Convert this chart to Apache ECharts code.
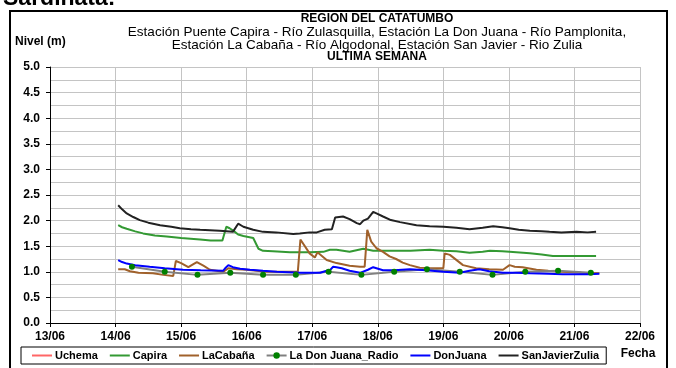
<!DOCTYPE html>
<html>
<head>
<meta charset="utf-8">
<script src="https://cdn.jsdelivr.net/npm/echarts@6/dist/echarts.min.js"></script>
<style>
  html, body { margin: 0; padding: 0; background: #fff; }
  #chart { width: 676px; height: 368px; }
</style>
</head>
<body>
<div id="chart"></div>
<script>
// Fecha expressed as day of June with fractional hours
const seriesNames = ['Uchema', 'Capira', 'LaCabaña', 'La Don Juana_Radio', 'DonJuana', 'SanJavierZulia'];
const xTicks = [13, 14, 15, 16, 17, 18, 19, 20, 21, 22];

const uchemaT = [];
const uchemaV = [];

const capiraT = [14.04, 14.10, 14.17, 14.30, 14.42, 14.60, 14.78, 15.00, 15.29, 15.45, 15.63, 15.69, 15.74, 15.80, 15.87, 15.95, 16.10, 16.18, 16.25, 16.40, 16.66, 16.96, 17.17, 17.27, 17.37, 17.57, 17.78, 17.93, 18.28, 18.50, 18.79, 19.00, 19.20, 19.40, 19.60, 19.71, 19.90, 20.01, 20.32, 20.50, 20.67, 21.00, 21.33];
const capiraV = [1.91, 1.87, 1.84, 1.79, 1.75, 1.71, 1.69, 1.66, 1.63, 1.61, 1.61, 1.88, 1.85, 1.80, 1.73, 1.70, 1.66, 1.45, 1.41, 1.40, 1.38, 1.38, 1.39, 1.43, 1.43, 1.39, 1.45, 1.41, 1.41, 1.41, 1.43, 1.41, 1.40, 1.37, 1.39, 1.41, 1.40, 1.39, 1.36, 1.34, 1.31, 1.31, 1.31];

const cabanaT = [14.04, 14.14, 14.22, 14.35, 14.57, 14.73, 14.88, 14.92, 15.00, 15.11, 15.24, 15.34, 15.44, 15.64, 15.72, 15.85, 16.00, 16.30, 16.78, 16.82, 16.96, 17.04, 17.08, 17.22, 17.37, 17.57, 17.73, 17.80, 17.84, 17.90, 17.98, 18.08, 18.18, 18.28, 18.38, 18.49, 18.64, 18.79, 19.00, 19.02, 19.10, 19.30, 19.50, 19.70, 19.91, 20.01, 20.09, 20.21, 20.42, 20.60, 20.82, 21.10, 21.38];
const cabanaV = [1.05, 1.05, 1.01, 0.98, 0.97, 0.94, 0.92, 1.21, 1.17, 1.09, 1.19, 1.12, 1.04, 1.00, 1.07, 1.05, 1.04, 1.00, 1.00, 1.63, 1.36, 1.28, 1.38, 1.23, 1.17, 1.12, 1.10, 1.10, 1.82, 1.59, 1.46, 1.39, 1.30, 1.25, 1.18, 1.13, 1.08, 1.07, 1.07, 1.36, 1.33, 1.13, 1.07, 1.05, 1.04, 1.13, 1.10, 1.09, 1.04, 1.02, 1.00, 0.98, 0.97];

const radioT = [14.25, 14.75, 15.25, 15.75, 16.25, 16.75, 17.25, 17.75, 18.25, 18.75, 19.25, 19.75, 20.25, 20.75, 21.25];
const radioV = [1.10, 1.00, 0.94, 0.98, 0.94, 0.94, 1.00, 0.94, 1.00, 1.05, 1.00, 0.94, 1.00, 1.02, 0.98];

const donJuanaT = [14.04, 14.10, 14.17, 14.30, 14.52, 14.75, 15.03, 15.30, 15.64, 15.68, 15.72, 15.79, 15.90, 16.05, 16.25, 16.46, 16.81, 17.12, 17.22, 17.27, 17.32, 17.37, 17.45, 17.57, 17.73, 17.85, 17.93, 18.08, 18.25, 18.49, 18.74, 19.00, 19.25, 19.40, 19.55, 19.70, 19.91, 20.10, 20.32, 20.60, 20.82, 21.22, 21.38];
const donJuanaV = [1.23, 1.19, 1.16, 1.13, 1.10, 1.07, 1.04, 1.03, 1.02, 1.08, 1.13, 1.09, 1.06, 1.04, 1.02, 1.00, 0.98, 0.98, 1.02, 1.03, 1.10, 1.09, 1.07, 1.02, 0.98, 1.04, 1.09, 1.03, 1.03, 1.05, 1.03, 1.00, 0.98, 1.02, 1.05, 1.01, 0.98, 0.98, 0.97, 0.96, 0.95, 0.95, 0.96];

const sanJavierT = [14.04, 14.10, 14.17, 14.27, 14.37, 14.50, 14.68, 14.85, 14.98, 15.15, 15.29, 15.44, 15.59, 15.79, 15.87, 15.95, 16.10, 16.25, 16.45, 16.71, 16.81, 16.96, 17.07, 17.19, 17.30, 17.35, 17.47, 17.57, 17.68, 17.73, 17.78, 17.85, 17.93, 17.98, 18.08, 18.20, 18.34, 18.59, 18.79, 19.00, 19.20, 19.40, 19.60, 19.76, 19.90, 20.01, 20.15, 20.32, 20.50, 20.62, 20.80, 21.03, 21.20, 21.33];
const sanJavierV = [2.30, 2.22, 2.14, 2.07, 2.01, 1.96, 1.91, 1.88, 1.85, 1.83, 1.82, 1.81, 1.80, 1.78, 1.94, 1.88, 1.82, 1.78, 1.77, 1.74, 1.75, 1.77, 1.77, 1.82, 1.83, 2.06, 2.08, 2.03, 1.95, 1.93, 2.00, 2.04, 2.17, 2.14, 2.08, 2.01, 1.97, 1.91, 1.89, 1.88, 1.86, 1.83, 1.86, 1.89, 1.87, 1.85, 1.82, 1.80, 1.79, 1.78, 1.77, 1.78, 1.77, 1.78];

const seriesColors = ['#ff6666', '#339933', '#a0612b', '#808080', '#0000ff', '#222222'];
const radioDotColor = '#008000';

function pairs(t, v) { return t.map((x, i) => [x, v[i]]); }

const FONT = "'Liberation Sans', Arial, sans-serif";
const chart = echarts.init(document.getElementById('chart'), null, { renderer: 'canvas' });

const lineSeries = (name, t, v, color) => ({
  name, type: 'line', data: pairs(t, v), symbol: 'none', showSymbol: false,
  lineStyle: { color, width: 2 }, itemStyle: { color }, animation: false
});

// legend entries: plain line icons, except the radio gauge which keeps its dot
const legendData = seriesNames.map(name =>
  name === 'La Don Juana_Radio' ? { name } : { name, itemStyle: { opacity: 0 } });

chart.setOption({
  backgroundColor: '#fff',
  animation: false,
  grid: { left: 50, right: 36, top: 67, bottom: 45, containLabel: false },
  xAxis: {
    type: 'value', min: xTicks[0], max: xTicks[xTicks.length - 1], interval: 1,
    axisLine: { lineStyle: { color: '#000', width: 1 } },
    axisTick: { show: true, length: 4, lineStyle: { color: '#000' } },
    axisLabel: {
      margin: 8, color: '#000', fontFamily: FONT, fontWeight: 'bold', fontSize: 12,
      formatter: v => (v < 10 ? '0' : '') + v + '/06'
    },
    splitLine: { show: true, lineStyle: { color: '#c4c4c4', width: 1 } }
  },
  yAxis: {
    type: 'value', min: 0, max: 5, interval: 0.5,
    axisLine: { show: true, lineStyle: { color: '#000', width: 1 } },
    axisTick: { show: true, length: 4, lineStyle: { color: '#000' } },
    axisLabel: {
      margin: 10, color: '#000', fontFamily: FONT, fontWeight: 'bold', fontSize: 12,
      formatter: v => v.toFixed(1)
    },
    splitLine: { show: true, lineStyle: { color: '#c4c4c4', width: 1 } },
    minorTick: { show: false, splitNumber: 2 },
    minorSplitLine: { show: true, lineStyle: { color: '#c4c4c4', width: 1 } }
  },
  legend: {
    data: legendData,
    left: 21, top: 347,
    padding: [3, 7, 3, 10],
    borderColor: '#000', borderWidth: 1,
    itemWidth: 20, itemHeight: 8, itemGap: 11,
    textStyle: { color: '#000', fontFamily: FONT, fontWeight: 'bold', fontSize: 11, padding: [0, 0, 0, -2] }
  },
  graphic: [
    { type: 'rect', silent: true, z: 100,
      shape: { x: 10, y: 11, width: 657, height: 370 },
      style: { fill: 'none', stroke: '#000', lineWidth: 2 } },
    { type: 'text', x: 3, y: -1, silent: true,
      style: { text: 'Sardinata:', font: "bold 23px " + FONT, fill: '#000', align: 'left', verticalAlign: 'middle' } },
    { type: 'text', x: 377, y: 19, silent: true,
      style: { text: 'REGIÓN DEL CATATUMBO', font: "bold 12px " + FONT, fill: '#000', align: 'center', verticalAlign: 'middle' } },
    { type: 'text', x: 377, y: 32, silent: true,
      style: { text: 'Estación Puente Capira - Río Zulasquilla, Estación La Don Juana - Río Pamplonita,', font: "13.5px " + FONT, fill: '#000', align: 'center', verticalAlign: 'middle' } },
    { type: 'text', x: 377, y: 45, silent: true,
      style: { text: 'Estación La Cabaña - Río Algodonal, Estación San Javier - Rio Zulia', font: "13.5px " + FONT, fill: '#000', align: 'center', verticalAlign: 'middle' } },
    { type: 'text', x: 377, y: 57, silent: true,
      style: { text: 'ULTIMA SEMANA', font: "bold 12px " + FONT, fill: '#000', align: 'center', verticalAlign: 'middle' } },
    { type: 'text', x: 15, y: 42, silent: true,
      style: { text: 'Nivel (m)', font: "bold 12px " + FONT, fill: '#000', align: 'left', verticalAlign: 'middle' } },
    { type: 'text', x: 638, y: 354, silent: true,
      style: { text: 'Fecha', font: "bold 12px " + FONT, fill: '#000', align: 'center', verticalAlign: 'middle' } }
  ],
  series: [
    lineSeries(seriesNames[0], uchemaT, uchemaV, seriesColors[0]),
    lineSeries(seriesNames[1], capiraT, capiraV, seriesColors[1]),
    lineSeries(seriesNames[2], cabanaT, cabanaV, seriesColors[2]),
    {
      name: seriesNames[3], type: 'line', data: pairs(radioT, radioV),
      symbol: 'circle', symbolSize: 6, showSymbol: true,
      lineStyle: { color: seriesColors[3], width: 2 },
      itemStyle: { color: radioDotColor, borderWidth: 0 },
      animation: false
    },
    lineSeries(seriesNames[4], donJuanaT, donJuanaV, seriesColors[4]),
    lineSeries(seriesNames[5], sanJavierT, sanJavierV, seriesColors[5])
  ]
});
</script>
</body>
</html>
